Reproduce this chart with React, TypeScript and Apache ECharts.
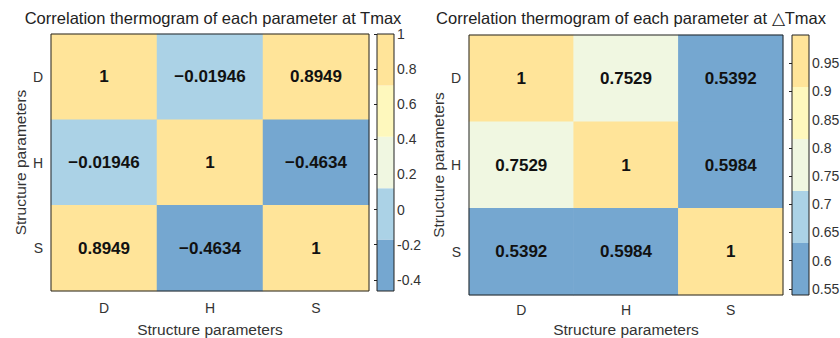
import React, { useEffect, useRef } from "react";
import * as echarts from "echarts";

const params = ["D", "H", "S"];
// correlation at Tmax (row-major, rows D,H,S)
const corrTmax = [
  [1, -0.01946, 0.8949],
  [-0.01946, 1, -0.4634],
  [0.8949, -0.4634, 1],
];
// correlation at ΔTmax
const corrDTmax = [
  [1, 0.7529, 0.5392],
  [0.7529, 1, 0.5984],
  [0.5392, 0.5984, 1],
];
const ticksTmax = [-0.4, -0.2, 0, 0.2, 0.4, 0.6, 0.8, 1];
const ticksDTmax = [0.55, 0.6, 0.65, 0.7, 0.75, 0.8, 0.85, 0.9, 0.95];
const bandColors = ["#75A7D0", "#ABD2E6", "#F0F7E1", "#FEF8BD", "#FFE499"];

const FONT = "'Liberation Sans', Arial, Helvetica, sans-serif";

function fmt(v: number) {
  if (v < 0) return "\u2212" + String(Math.abs(v));
  return String(v);
}

function toCells(m: number[][]) {
  const out: any[] = [];
  m.forEach((row, r) => row.forEach((v, c) => out.push([c, r, v])));
  return out;
}

function bands(min: number, max: number) {
  const n = bandColors.length;
  const step = (max - min) / n;
  return bandColors.map((color, i) => ({
    lo: min + i * step,
    hi: min + (i + 1) * step,
    color,
  }));
}

export default function App() {
  const ref = useRef<HTMLDivElement>(null);
  useEffect(() => {
    if (!ref.current) return;
    const chart = echarts.init(ref.current, undefined, { renderer: "svg" });

    const min1 = Math.min(...corrTmax.flat());
    const max1 = Math.max(...corrTmax.flat());
    const min2 = Math.min(...corrDTmax.flat());
    const max2 = Math.max(...corrDTmax.flat());
    const b1 = bands(min1, max1);
    const b2 = bands(min2, max2);

    const pieces = (b: any[]) =>
      b.map((p, i) => ({
        gte: i === 0 ? -10 : p.lo,
        lt: i === b.length - 1 ? 10 : p.hi,
        color: p.color,
      }));

    const grids = [
      { left: 51, top: 34, width: 318, height: 257 },
      { left: 377, top: 34, width: 17, height: 257 },
      { left: 469, top: 35, width: 314, height: 260 },
      { left: 792, top: 35, width: 17, height: 260 },
    ].map((g) => ({
      ...g,
      show: true,
      z: 10,
      outerBoundsMode: "none",
      containLabel: false,
      borderColor: "#222",
      borderWidth: 1,
      backgroundColor: "transparent",
    }));

    const heatX = (gi: number, margin: number, nameGap: number) => ({
      type: "category",
      gridIndex: gi,
      data: params,
      axisLine: { show: false },
      axisTick: { show: false },
      axisLabel: { color: "#333", fontSize: 14, fontFamily: FONT, margin },
      name: "Structure parameters",
      nameLocation: "middle",
      nameGap,
      nameTextStyle: { color: "#333", fontSize: 15.5, fontFamily: FONT },
      splitLine: { show: false },
    });
    const heatY = (gi: number) => ({
      type: "category",
      gridIndex: gi,
      data: params,
      inverse: true,
      axisLine: { show: false },
      axisTick: { show: false },
      axisLabel: { color: "#333", fontSize: 14, fontFamily: FONT, margin: 8 },
      name: "Structure parameters",
      nameLocation: "middle",
      nameGap: 22,
      nameRotate: 90,
      nameTextStyle: { color: "#333", fontSize: 15.5, fontFamily: FONT },
      splitLine: { show: false },
    });
    const cbX = (gi: number) => ({
      type: "value",
      gridIndex: gi,
      min: 0,
      max: 1,
      show: false,
    });
    const cbY = (gi: number, min: number, max: number, ticks: number[]) => ({
      type: "value",
      gridIndex: gi,
      position: "right",
      min,
      max,
      axisLine: { show: false },
      splitLine: { show: false },
      axisTick: {
        show: true,
        inside: true,
        length: 3,
        lineStyle: { color: "#222" },
        customValues: ticks,
      },
      axisLabel: {
        color: "#333",
        fontSize: 14,
        fontFamily: FONT,
        margin: 3,
        customValues: ticks,
        formatter: (v: number) => String(v),
      },
    });

    const cellLabel = {
      show: true,
      formatter: (p: any) => fmt(p.value[2]),
      color: "#111",
      fontSize: 17,
      fontWeight: "bold",
      fontFamily: FONT,
    };

    const cbSeries = (xi: number, b: any[]) => ({
      type: "custom",
      xAxisIndex: xi,
      yAxisIndex: xi,
      silent: true,
      data: b.map((p) => [p.lo, p.hi]),
      renderItem: (params: any, api: any) => {
        const p1 = api.coord([0, api.value(1)]);
        const p2 = api.coord([1, api.value(0)]);
        return {
          type: "rect",
          shape: { x: p1[0], y: p1[1], width: p2[0] - p1[0], height: p2[1] - p1[1] },
          style: { fill: b[params.dataIndex].color },
        };
      },
    });

    chart.setOption({
      animation: false,
      backgroundColor: "#fff",
      title: [
        {
          text: "Correlation thermogram of each parameter at Tmax",
          left: 208,
          top: 4,
          textAlign: "center",
          textStyle: { color: "#222", fontSize: 16.5, fontWeight: "normal", fontFamily: FONT },
        },
        {
          text: "Correlation thermogram of each parameter at \u25B3Tmax",
          left: 626,
          top: 4,
          textAlign: "center",
          textStyle: { color: "#222", fontSize: 16.5, fontWeight: "normal", fontFamily: FONT },
        },
      ],
      grid: grids,
      xAxis: [heatX(0, 10, 30), cbX(1), heatX(2, 8, 26), cbX(3)],
      yAxis: [heatY(0), cbY(1, min1, max1, ticksTmax), heatY(2), cbY(3, min2, max2, ticksDTmax)],
      visualMap: [
        { type: "piecewise", show: false, seriesIndex: 0, dimension: 2, pieces: pieces(b1) },
        { type: "piecewise", show: false, seriesIndex: 2, dimension: 2, pieces: pieces(b2) },
      ],
      series: [
        {
          type: "heatmap",
          xAxisIndex: 0,
          yAxisIndex: 0,
          data: toCells(corrTmax),
          label: cellLabel,
        },
        cbSeries(1, b1),
        {
          type: "heatmap",
          xAxisIndex: 2,
          yAxisIndex: 2,
          data: toCells(corrDTmax),
          label: cellLabel,
        },
        cbSeries(3, b2),
      ],
    });
    return () => chart.dispose();
  }, []);
  return (
    <div
      ref={ref}
      style={{ position: "absolute", left: 0, top: 0, width: 840, height: 338 }}
    />
  );
}
